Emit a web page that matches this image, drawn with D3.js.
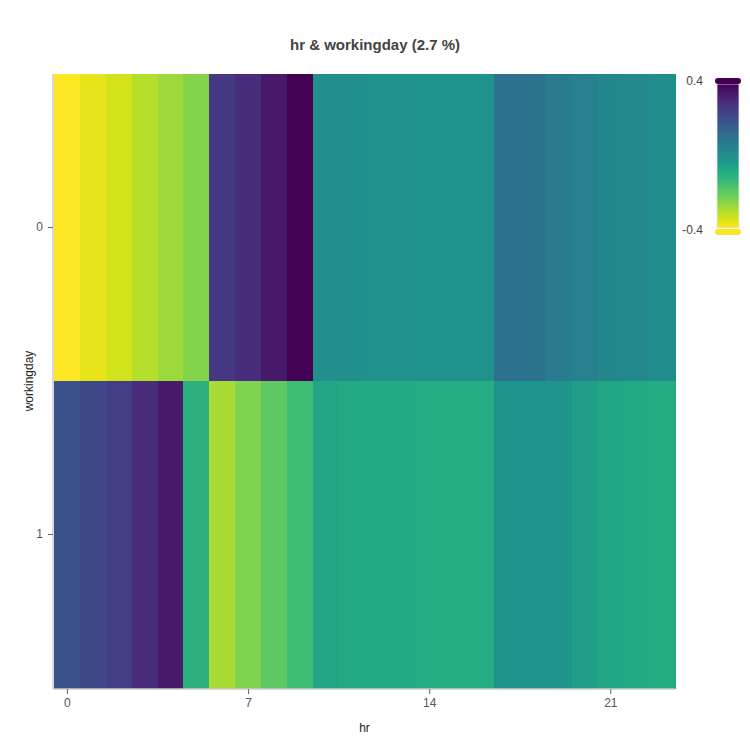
<!DOCTYPE html>
<html>
<head>
<meta charset="utf-8">
<script src="https://cdn.jsdelivr.net/npm/d3@7"></script>
<style>
  body { margin: 0; background: #fff; }
  text { font-family: "Liberation Sans", Arial, sans-serif; }
</style>
</head>
<body>
<div id="chart"></div>
<script>
// categories
const hours = d3.range(0, 24);
const workingdays = ["0", "1"];

// interaction term values, one row per workingday
const values_wd0 = [-0.4, -0.37, -0.345, -0.31, -0.28, -0.25, 0.27, 0.30, 0.35, 0.4,
                    0.002, 0.001, 0.0, 0.0, -0.005, -0.005, -0.005,
                    0.10, 0.095, 0.07, 0.055, 0.03, 0.025, 0.01];
const values_wd1 = [0.2, 0.23, 0.255, 0.30, 0.345, -0.11, -0.295, -0.245, -0.2, -0.15,
                    -0.07, -0.085, -0.085, -0.085, -0.095, -0.095, -0.095,
                    -0.005, -0.01, -0.015, -0.045, -0.075, -0.085, -0.09];

const x_ticks = [0, 7, 14, 21];
const color_ticks = [0.4, -0.4];
const color_min = -0.4, color_max = 0.4;
const title_text = "hr & workingday (2.7 %)";

let heat_data = [];
for (let i = 0; i < hours.length; i++) {
    heat_data.push({"hr": hours[i], "wd": "0", "value": values_wd0[i]});
    heat_data.push({"hr": hours[i], "wd": "1", "value": values_wd1[i]});
}

const width = 750, height = 750;
const plot_left = 54, plot_right = 675, plot_top = 74, plot_bottom = 688;

let svg = d3.select("#chart").append("svg")
    .attr("width", width)
    .attr("height", height);

let xScale = d3.scaleLinear()
    .domain([-0.5, 23.5])
    .range([plot_left, plot_right]);

let yScale = d3.scaleBand()
    .domain(workingdays)
    .range([plot_top, plot_bottom]);

// reversed viridis: high values purple, low values yellow
let colorScale = d3.scaleSequential(t => d3.interpolateViridis(1 - t))
    .domain([color_min, color_max])
    .clamp(true);

let chart = svg.append("g").attr("shape-rendering", "crispEdges");

chart.selectAll(".cell")
     .data(heat_data)
     .enter()
     .append("rect")
     .attr("class", "cell")
     .attr("x", function(d) { return xScale(d.hr - 0.5); })
     .attr("y", function(d) { return yScale(d.wd); })
     .attr("width", function(d) { return xScale(d.hr + 0.5) - xScale(d.hr - 0.5) + 0.5; })
     .attr("height", yScale.bandwidth() + 0.5)
     .attr("fill", function(d) { return colorScale(d.value); });

// axes
let x_axis = svg.append("g")
    .attr("transform", "translate(0," + (plot_bottom + 1) + ")")
    .call(d3.axisBottom(xScale).tickValues(x_ticks).tickSize(5).tickSizeOuter(0).tickPadding(4));

let y_axis = svg.append("g")
    .attr("transform", "translate(" + (plot_left - 1) + ",0)")
    .call(d3.axisLeft(yScale).tickSize(5).tickSizeOuter(0).tickPadding(5));

for (let ax of [x_axis, y_axis]) {
    ax.select(".domain").attr("stroke", "#cccccc").attr("stroke-width", 1.5);
    ax.selectAll(".tick line").attr("stroke", "#666666");
    ax.selectAll(".tick text")
      .attr("fill", "#555555")
      .attr("font-size", "12px")
      .attr("font-family", "Liberation Sans, Arial, sans-serif");
}
x_axis.select(".domain").attr("d", "M" + (plot_left - 1) + ",0H" + plot_right);
y_axis.select(".domain").attr("d", "M0," + plot_top + "V" + (plot_bottom + 1));

// axis titles
svg.append("text")
   .attr("x", (plot_left + plot_right) / 2)
   .attr("y", 732)
   .attr("text-anchor", "middle")
   .attr("font-size", "12px")
   .attr("fill", "#222")
   .text("hr");

svg.append("text")
   .attr("transform", "translate(33," + ((plot_top + plot_bottom) / 2) + ") rotate(-90)")
   .attr("text-anchor", "middle")
   .attr("font-size", "12px")
   .attr("fill", "#222")
   .text("workingday");

// title
svg.append("text")
   .attr("x", 375)
   .attr("y", 50)
   .attr("text-anchor", "middle")
   .attr("font-size", "15px")
   .attr("font-weight", "bold")
   .attr("fill", "#444")
   .text(title_text);

// colorbar
const cb_left = 717, cb_width = 22, cb_top = 84, cb_bottom = 228;
let cbScale = d3.scaleLinear()
    .domain([color_min, color_max])
    .range([cb_bottom + 4, cb_top - 3]);

let defs = svg.append("defs");
let grad = defs.append("linearGradient")
    .attr("id", "cb_grad")
    .attr("x1", "0").attr("y1", "1")
    .attr("x2", "0").attr("y2", "0");
d3.range(0, 21).forEach(function(i) {
    let t = i / 20;
    grad.append("stop")
        .attr("offset", t)
        .attr("stop-color", colorScale(color_min + t * (color_max - color_min)));
});

svg.append("rect")
   .attr("x", cb_left)
   .attr("y", cb_top)
   .attr("width", cb_width)
   .attr("height", cb_bottom - cb_top)
   .attr("fill", "url(#cb_grad)")
   .attr("stroke", "#e8e8e8")
   .attr("stroke-width", 0.8);

// rounded end caps
svg.append("rect")
   .attr("x", cb_left - 2)
   .attr("y", cbScale(color_max) - 3)
   .attr("width", cb_width + 4)
   .attr("height", 6)
   .attr("rx", 3)
   .attr("fill", colorScale(color_max));
svg.append("rect")
   .attr("x", cb_left - 2)
   .attr("y", cbScale(color_min) - 3)
   .attr("width", cb_width + 4)
   .attr("height", 6)
   .attr("rx", 3)
   .attr("fill", colorScale(color_min));

svg.selectAll(".cb_label")
   .data(color_ticks)
   .enter()
   .append("text")
   .attr("class", "cb_label")
   .attr("x", 703)
   .attr("y", function(d) { return (d > 0 ? 81 : 230) + 4; })
   .attr("text-anchor", "end")
   .attr("font-size", "12px")
   .attr("fill", "#444")
   .text(function(d) { return d; });
</script>
</body>
</html>
